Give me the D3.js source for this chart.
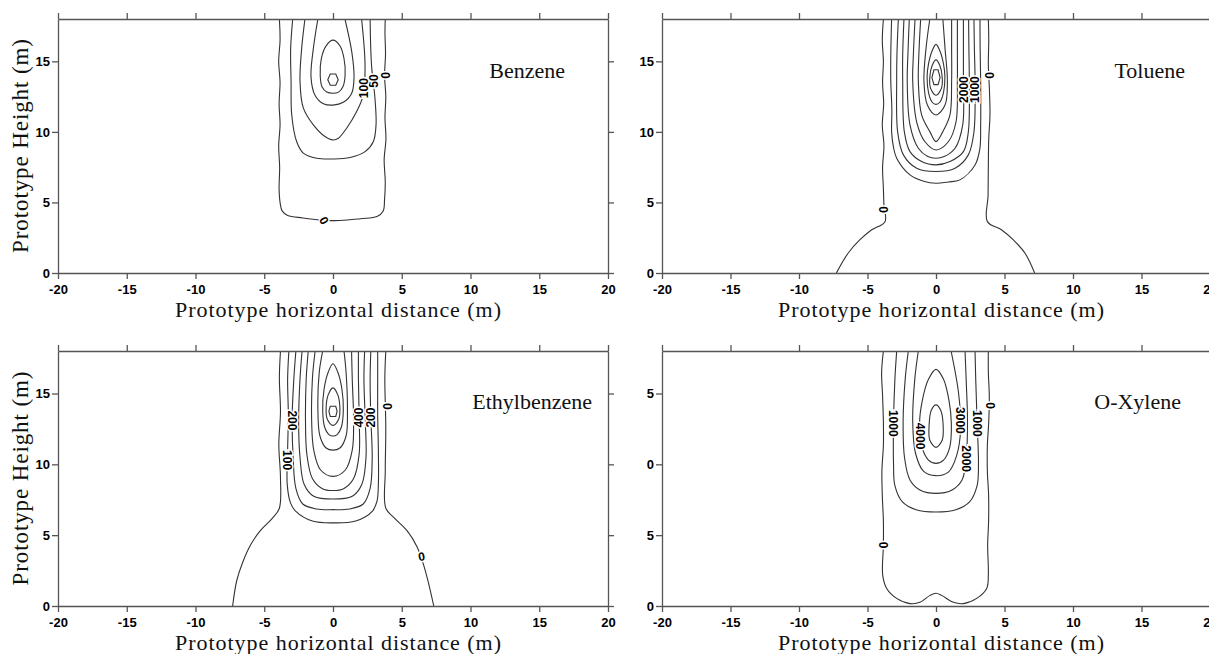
<!DOCTYPE html>
<html>
<head>
<meta charset="utf-8">
<script src="https://cdn.jsdelivr.net/npm/d3@7"></script>
<style>
  body { margin: 0; background: #fff; }
  svg { display: block; }
  .tick text { font-family: "Liberation Sans", Arial, sans-serif; font-weight: bold; font-size: 13px; fill: #000; }
  .tick line, .domain { stroke: #555; stroke-width: 1.3; }
  .clab { font-family: "Liberation Sans", Arial, sans-serif; font-weight: bold; font-size: 12px;
          paint-order: stroke; stroke: #fff; stroke-width: 3px; fill: #000; }
  .serif { font-family: "Liberation Serif", "Times New Roman", serif; fill: #111; }
</style>
</head>
<body>
<script>
// axis ticks (metres)
var xTicks = [-20, -15, -10, -5, 0, 5, 10, 15, 20];
var yTicks = [0, 5, 10, 15];
var yTickLabels = ['0', '5', '10', '15'];
var yTickLabelsCut = ['0', '5', '0', '5'];   // o-xylene panel shows clipped labels
var panelNames = ['Benzene', 'Toluene', 'Ethylbenzene', 'O-Xylene'];

// contour lines: [x (m), y (m)]
var benzeneLines = [
  {level: 0, pts: [[-3.9,18],[-3.85,16.5],[-3.95,15],[-3.85,13.5],[-3.92,12],[-3.85,10.5],[-3.95,9],[-3.88,7.5],[-3.92,6],[-3.85,5],[-3.7,4.4],[-3.3,4.08],[-2.2,3.9],[-0.9,3.75],[0.5,3.72],[2,3.85],[3.2,4.0],[3.65,4.4],[3.75,5.2],[3.8,6.5],[3.72,8],[3.85,9.5],[3.78,11],[3.84,12.5],[3.75,14],[3.82,15.5],[3.78,17],[3.8,18]]},
  {level: 50, pts: [[-2.93,18],[-3.08,15.9],[-3.05,13.6],[-3.0,11.2],[-2.64,9.3],[-2.16,8.5],[-1.19,8.13],[0,8.08],[1.24,8.18],[2.33,8.6],[2.93,9.3],[3.13,10.5],[3.05,12.4],[2.8,14.75],[2.7,18]]},
  {level: 100, pts: [[-2.04,18],[-2.28,15.9],[-2.4,13.6],[-2.16,11.7],[-1.43,10.5],[-0.58,9.67],[0,9.43],[0.39,9.55],[0.99,10.26],[1.72,11.44],[2.2,12.6],[2.33,14.75],[2.08,18]]},
  {level: 150, pts: [[-1.1,18],[-1.43,15.9],[-1.6,13.9],[-1.31,12.6],[-0.7,12.0],[0,11.9],[0.75,12.1],[1.36,12.74],[1.53,13.9],[1.36,15.7],[0.87,18]]},
  {level: 200, closed: true, pts: [[0,16.5],[0.5,16.1],[0.8,15.2],[0.88,14.0],[0.72,13.2],[0.4,12.82],[0,12.74],[-0.45,12.82],[-0.8,13.2],[-0.93,14.0],[-0.85,15.2],[-0.5,16.1]]},
  {level: 250, poly: true, pts: [[-0.2,14.1],[0.2,14.1],[0.38,13.7],[0.2,13.3],[-0.2,13.3],[-0.38,13.7]]}
];
var benzeneLabels = [
  {text: '0', x: 3.78, y: 14.0, rot: 90},
  {text: '50', x: 2.95, y: 13.6, rot: -90},
  {text: '100', x: 2.25, y: 13.1, rot: -90},
  {text: '0', x: -0.65, y: 3.72, rot: 60}
];

var tolueneLines = [
  {level: 0, pts: [[-3.84,18],[-3.92,16.5],[-3.84,15],[-3.9,13.5],[-3.82,12],[-3.92,10.5],[-3.8,9],[-3.9,7.5],[-3.84,6],[-3.8,4.8],[-3.72,3.64],[-4.72,3.05],[-5.57,2.34],[-6.42,1.4],[-7.27,0]]},
  {level: 0, pts: [[3.82,18],[3.85,16.5],[3.82,14.75],[3.9,13],[3.94,11.2],[3.85,9.5],[3.82,7.66],[3.8,5.5],[3.75,3.64],[4.8,3.05],[5.65,2.34],[6.5,1.4],[7.2,0]]},
  {level: 500, pts: [[-3.24,18],[-3.3,15.5],[-3.3,13.6],[-3.22,11.5],[-3.24,10.0],[-3.1,8.9],[-2.87,8.13],[-1.9,6.95],[-0.9,6.5],[0,6.36],[0.9,6.45],[1.75,6.6],[2.85,7.66],[3.2,8.8],[3.26,10.5],[3.26,13.6],[3.22,16],[3.21,18]]},
  {level: 1000, pts: [[-2.75,18],[-2.85,15.5],[-2.87,13.6],[-2.8,10.0],[-2.38,8.37],[-1.41,7.42],[0,7.19],[1.39,7.42],[2.36,8.37],[2.77,10.0],[2.85,13.6],[2.8,16],[2.77,18]]},
  {level: 1500, pts: [[-2.34,18],[-2.43,15.5],[-2.43,13.6],[-2.31,10],[-1.9,8.6],[-1.05,7.9],[0,7.66],[1.02,7.9],[2.0,8.6],[2.36,10],[2.43,13.6],[2.4,16],[2.38,18]]},
  {level: 2000, pts: [[-1.95,18],[-2.05,15.5],[-2.1,13.6],[-1.9,10.5],[-1.29,8.84],[-0.6,8.25],[0,8.13],[0.6,8.25],[1.39,8.84],[1.95,10.5],[2.0,13.6],[2.0,16],[2.0,18]]},
  {level: 2500, pts: [[-1.53,18],[-1.65,15.5],[-1.7,13.6],[-1.41,10.7],[-0.8,9.3],[0,8.72],[0.9,9.3],[1.46,10.7],[1.56,13.6],[1.56,16],[1.56,18]]},
  {level: 3000, pts: [[-1.12,18],[-1.25,15.5],[-1.29,13.6],[-1.05,11.2],[-0.44,10.0],[0,9.31],[0.49,10.0],[1.02,11.2],[1.14,13.6],[1.14,16],[1.14,18]]},
  {level: 3500, pts: [[-0.45,18],[-0.73,15.9],[-0.88,13.6],[-0.63,11.9],[0,11.2],[0.66,11.9],[0.83,13.6],[0.66,15.9],[0.5,18]]},
  {level: 4000, closed: true, pts: [[0,16.2],[0.3,15.7],[0.55,14.8],[0.65,13.9],[0.55,12.8],[0.28,12.1],[0,11.95],[-0.28,12.1],[-0.55,12.8],[-0.65,13.9],[-0.55,14.8],[-0.3,15.7]]},
  {level: 4500, closed: true, pts: [[0,15.1],[0.28,14.7],[0.45,13.9],[0.4,13.1],[0,12.6],[-0.4,13.1],[-0.45,13.9],[-0.28,14.7]]},
  {level: 5000, poly: true, pts: [[-0.15,14.4],[0.15,14.4],[0.3,13.85],[0.15,13.35],[-0.15,13.35],[-0.3,13.85]]}
];
var tolueneLabels = [
  {text: '0', x: 3.9, y: 14.0, rot: 90},
  {text: '0', x: -3.84, y: 4.5, rot: 90},
  {text: '1000', x: 2.85, y: 13.0, rot: -90},
  {text: '2000', x: 2.05, y: 13.0, rot: -90}
];

var ethylLines = [
  {level: 0, pts: [[-3.82,18],[-3.9,16.1],[-3.82,13.7],[-3.94,11.4],[-3.82,9.04],[-3.9,6.9],[-4.4,6.2],[-5.3,5.3],[-6.0,4.3],[-6.6,3.0],[-7.0,1.8],[-7.3,0]]},
  {level: 0, pts: [[3.84,18],[3.77,16.1],[3.84,12.56],[3.8,9.5],[3.84,6.9],[4.45,6.22],[5.4,5.3],[6.1,4.2],[6.62,2.8],[6.95,1.6],[7.33,0]]},
  {level: 100, pts: [[-3.21,18],[-3.3,16],[-3.25,13.5],[-3.3,11],[-3.33,8.6],[-3.1,7.3],[-2.72,6.7],[-1.5,6.0],[0,5.87],[1.65,6.0],[2.87,6.7],[3.2,7.4],[3.3,8.6],[3.3,11],[3.25,13.5],[3.25,16],[3.25,18]]},
  {level: 200, pts: [[-2.7,18],[-2.85,16],[-2.97,13.3],[-2.9,10.5],[-2.7,8.3],[-2.2,7.2],[-1.2,6.85],[0,6.8],[1.2,6.85],[2.2,7.2],[2.7,8.3],[2.85,10.5],[2.75,13.3],[2.7,16],[2.75,18]]},
  {level: 300, pts: [[-2.25,18],[-2.4,16],[-2.5,13],[-2.4,10.5],[-2.1,8.6],[-1.4,7.75],[0,7.55],[1.4,7.75],[2.1,8.6],[2.4,10.5],[2.35,13],[2.25,16],[2.3,18]]},
  {level: 400, pts: [[-1.8,18],[-1.95,16],[-2.0,13],[-1.9,10.7],[-1.5,9.0],[-0.8,8.3],[0,8.15],[0.8,8.3],[1.5,9.0],[1.9,10.7],[1.9,13.3],[1.85,16],[1.85,18]]},
  {level: 500, pts: [[-1.3,18],[-1.5,16],[-1.55,13],[-1.4,11],[-0.9,9.6],[0,9.15],[0.9,9.6],[1.4,11],[1.5,13],[1.4,16],[1.35,18]]},
  {level: 600, pts: [[-0.75,18],[-1.0,16.5],[-1.1,14],[-0.95,12],[-0.5,11.15],[0,11.0],[0.5,11.15],[0.95,12],[1.05,14],[0.95,16.5],[0.8,18]]},
  {level: 700, closed: true, pts: [[0,17.1],[0.35,16.5],[0.65,15.3],[0.75,13.8],[0.6,12.6],[0.3,12.1],[0,12.0],[-0.3,12.1],[-0.6,12.6],[-0.75,13.8],[-0.65,15.3],[-0.35,16.5]]},
  {level: 800, closed: true, pts: [[0,15.4],[0.35,14.9],[0.5,14.0],[0.42,13.2],[0,12.75],[-0.42,13.2],[-0.5,14.0],[-0.35,14.9]]},
  {level: 900, poly: true, pts: [[-0.2,14.1],[0.2,14.1],[0.3,13.75],[0.2,13.38],[-0.2,13.38],[-0.3,13.75]]}
];
var ethylLabels = [
  {text: '0', x: 3.97, y: 14.1, rot: 90},
  {text: '0', x: 6.45, y: 3.5, rot: -10},
  {text: '400', x: 1.9, y: 13.3, rot: -90},
  {text: '200', x: 2.75, y: 13.3, rot: -90},
  {text: '200', x: -2.97, y: 13.1, rot: 90},
  {text: '100', x: -3.3, y: 10.3, rot: 90}
];

var xyleneLines = [
  {level: 0, pts: [[-3.84,18],[-3.97,16.5],[-3.9,14.86],[-3.84,13],[-3.84,11.34],[-3.95,9.5],[-3.92,7.82],[-3.84,6],[-3.84,4.3],[-3.89,2.18],[-3.6,1.24],[-2.87,0.54],[-1.9,0.17],[-1.17,0.26],[-0.44,0.75],[0,0.9],[0.41,0.75],[1.27,0.26],[2.0,0.17],[2.97,0.54],[3.7,1.24],[3.82,2.18],[3.77,4.3],[3.84,6],[3.84,7.82],[3.75,9.5],[3.75,11.34],[3.85,13],[3.89,14.86],[3.82,16.5],[3.82,18]]},
  {level: 1000, pts: [[-2.87,18],[-3.0,16],[-3.1,13],[-3.1,10],[-3.0,8.5],[-2.45,7.35],[-1.45,6.8],[0,6.64],[1.45,6.8],[2.45,7.35],[3.0,8.5],[3.1,10],[3.0,13],[2.9,16],[2.85,18]]},
  {level: 2000, pts: [[-2.02,18],[-2.25,16],[-2.4,13],[-2.3,10.5],[-1.9,8.9],[-1.1,8.15],[0,7.95],[1.1,8.15],[1.9,8.9],[2.2,10.4],[2.3,13],[2.2,16],[2.12,18]]},
  {level: 3000, pts: [[-1.29,18],[-1.55,16],[-1.7,13],[-1.5,10.8],[-0.9,9.5],[0,9.2],[0.9,9.45],[1.5,10.6],[1.8,12.5],[1.65,15],[1.1,18]]},
  {level: 4000, closed: true, pts: [[0,16.7],[0.55,16.0],[0.95,14.5],[1.12,12.9],[1.0,11.2],[0.55,10.3],[0,10.07],[-0.55,10.3],[-1.05,11.3],[-1.2,12.9],[-1.0,14.5],[-0.55,16.0]]},
  {level: 5000, closed: true, pts: [[0,14.2],[0.35,13.8],[0.52,12.8],[0.45,11.7],[0,11.2],[-0.45,11.7],[-0.5,12.8],[-0.35,13.8]]}
];
var xyleneLabels = [
  {text: '0', x: 3.94, y: 14.15, rot: 90},
  {text: '0', x: -3.84, y: 4.3, rot: 90},
  {text: '1000', x: -3.1, y: 12.9, rot: 90},
  {text: '4000', x: -1.17, y: 12.0, rot: 90},
  {text: '3000', x: 1.8, y: 13.1, rot: 90},
  {text: '1000', x: 3.0, y: 12.9, rot: 90},
  {text: '2000', x: 2.2, y: 10.4, rot: 90}
];

var W = 1209, H = 654;
var svg = d3.select('body').append('svg').attr('width', W).attr('height', H);

var panels = [
  {name: panelNames[0], lines: benzeneLines, labels: benzeneLabels, yLab: yTickLabels, box: [58, 608, 19, 273], nameX: 565, nameY: 78, yTitle: true},
  {name: panelNames[1], lines: tolueneLines, labels: tolueneLabels, yLab: yTickLabels, box: [662, 1210, 19, 273], nameX: 1185, nameY: 78, yTitle: false},
  {name: panelNames[2], lines: ethylLines, labels: ethylLabels, yLab: yTickLabels, box: [58, 608, 351, 606], nameX: 592, nameY: 409, yTitle: true},
  {name: panelNames[3], lines: xyleneLines, labels: xyleneLabels, yLab: yTickLabelsCut, box: [662, 1210, 351, 606], nameX: 1181, nameY: 409, yTitle: false}
];

panels.forEach(function(p, i) {
  var l = p.box[0], r = p.box[1], t = p.box[2], b = p.box[3];
  var x = d3.scaleLinear().domain([-20, 20]).range([l, r]);
  var y = d3.scaleLinear().domain([0, 18]).range([b, t]);
  var g = svg.append('g');

  g.append('clipPath').attr('id', 'clip' + i)
    .append('rect').attr('x', l).attr('y', t).attr('width', r - l).attr('height', b - t);

  var plot = g.append('g').attr('clip-path', 'url(#clip' + i + ')');

  var line = d3.line().x(d => x(d[0])).y(d => y(d[1]));
  p.lines.forEach(function(c) {
    var curve = c.poly ? d3.curveLinearClosed : (c.closed ? d3.curveCatmullRomClosed : d3.curveCatmullRom);
    plot.append('path')
      .attr('d', line.curve(curve)(c.pts))
      .attr('fill', 'none')
      .attr('stroke', '#333')
      .attr('stroke-width', 1.1);
  });

  plot.selectAll('text.clab')
    .data(p.labels)
    .enter()
    .append('text')
    .attr('class', 'clab')
    .attr('text-anchor', 'middle')
    .attr('dy', '0.35em')
    .attr('transform', d => 'translate(' + x(d.x) + ',' + y(d.y) + ') rotate(' + d.rot + ')')
    .text(d => d.text);

  // axes on all four sides, labels only bottom and left
  g.append('g').attr('transform', 'translate(0,' + b + ')')
    .call(d3.axisBottom(x).tickValues(xTicks).tickSize(6).tickSizeOuter(0).tickPadding(6).tickFormat(d => String(d)));
  g.append('g').attr('transform', 'translate(0,' + t + ')')
    .call(d3.axisTop(x).tickValues(xTicks).tickSize(6).tickSizeOuter(0).tickFormat(''));
  g.append('g').attr('transform', 'translate(' + l + ',0)')
    .call(d3.axisLeft(y).tickValues(yTicks).tickSize(6).tickSizeOuter(0).tickPadding(2).tickFormat((d, k) => p.yLab[k]));
  g.append('g').attr('transform', 'translate(' + r + ',0)')
    .call(d3.axisRight(y).tickValues(yTicks).tickSize(6).tickSizeOuter(0).tickFormat(''));
  g.selectAll('.domain').attr('stroke', '#555');

  g.append('text')
    .attr('class', 'serif')
    .attr('x', (l + r) / 2 + 5)
    .attr('y', b + 44)
    .attr('text-anchor', 'middle')
    .attr('textLength', 326)
    .attr('lengthAdjust', 'spacing')
    .style('font-size', '22px')
    .text('Prototype horizontal distance (m)');

  if (p.yTitle) {
    g.append('text')
      .attr('class', 'serif')
      .attr('transform', 'translate(28,' + ((t + b) / 2) + ') rotate(-90)')
      .attr('text-anchor', 'middle')
      .attr('textLength', 214)
      .attr('lengthAdjust', 'spacing')
      .style('font-size', '23px')
      .text('Prototype Height (m)');
  }

  g.append('text')
    .attr('class', 'serif')
    .attr('x', p.nameX)
    .attr('y', p.nameY)
    .attr('text-anchor', 'end')
    .style('font-size', '22px')
    .text(p.name);
});
</script>
</body>
</html>
